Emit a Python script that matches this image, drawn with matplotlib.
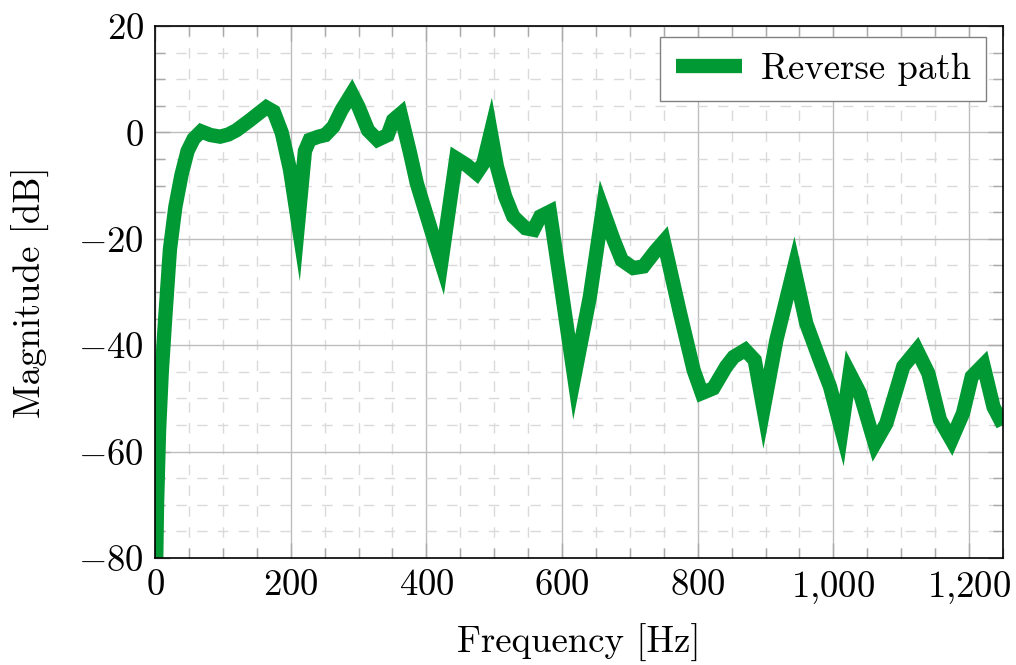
import matplotlib
matplotlib.use("Agg")
import matplotlib.pyplot as plt
from matplotlib.ticker import MultipleLocator, FuncFormatter

# ---- data ----
freq_hz = [0, 3, 6, 10, 15, 22, 30, 39, 48, 57, 68, 82, 96, 108, 120, 140, 164, 175,
           187, 199, 211, 221, 228, 241, 251, 263, 275, 290, 300, 314, 328, 343, 351,
           362, 376, 386, 410, 422, 444, 459, 474, 484, 495, 504, 516, 528, 546, 558,
           568, 582, 597, 618, 641, 660, 676, 688, 705, 720, 737, 750, 774, 794, 806,
           823, 842, 853, 870, 884, 897, 916, 942, 960, 980, 995, 1012, 1024, 1039,
           1061, 1078, 1103, 1123, 1140, 1157, 1174, 1191, 1204, 1221, 1236, 1250]
mag_db = [-95, -70, -56, -45, -35, -22, -14, -8, -3.5, -1.2, 0.2, -0.5, -0.8, -0.4,
          0.4, 2.3, 4.7, 3.9, -0.1, -7, -17, -3.5, -1.4, -0.8, -0.5, 1.1, 4.2, 7.3,
          4.8, 0.4, -1.4, -0.5, 2.3, 3.5, -3.9, -9.6, -19.6, -24.5, -4.9, -6.1, -7.7,
          -5.8, 0.0, -6.4, -12, -15.8, -18, -18.3, -15.8, -14.9, -27.7, -46, -30.9,
          -14.5, -20.2, -24, -25.5, -25.2, -22.4, -20.5, -34, -44.7, -49, -48.1, -44,
          -42.2, -40.9, -42.8, -52, -39, -25.5, -35.9, -42.8, -47.8, -56, -45.3,
          -49, -58.5, -54.7, -44, -40.9, -45.3, -54, -57.8, -52.8, -45.9, -43.7,
          -51.6, -55]
series_label = "Reverse path"
x_label = "Frequency [Hz]"
y_label = "Magnitude [dB]"

plt.rcParams['mathtext.fontset'] = 'cm'
plt.rcParams['font.family'] = ['cmr10', 'DejaVu Serif']
plt.rcParams['axes.formatter.use_mathtext'] = True
plt.rcParams['axes.unicode_minus'] = True

FS = 26.5
GREEN = '#009933'

fig = plt.figure(figsize=(10.16, 6.65), dpi=100)
ax = fig.add_axes([155/1016, 1 - 558/665, (1003-155)/1016, (558-26)/665])

ax.plot(freq_hz, mag_db, color=GREEN, lw=10.3, solid_joinstyle='miter',
        solid_capstyle='butt', label=series_label, zorder=3)

ax.set_xlim(0, 1250)
ax.set_ylim(-80, 20)
ax.xaxis.set_major_locator(MultipleLocator(200))
ax.xaxis.set_minor_locator(MultipleLocator(50))
ax.yaxis.set_major_locator(MultipleLocator(20))
ax.yaxis.set_minor_locator(MultipleLocator(5))

def fmt(v, pos):
    s = f"{int(round(v)):,}".replace(",", "{,}")
    return f"${s}$"
ax.xaxis.set_major_formatter(FuncFormatter(fmt))
ax.yaxis.set_major_formatter(FuncFormatter(fmt))

ax.grid(True, which='major', color='#bdbdbd', lw=1.0, ls='-', zorder=0)
ax.grid(True, which='minor', color='#dadada', lw=1.0, ls=(0, (7.5, 7.5)), zorder=0)
ax.set_axisbelow(True)

ax.tick_params(which='both', direction='in', top=True, right=True, color='#aaaaaa',
               width=1.0, labelsize=FS)
ax.tick_params(which='major', length=10.5, pad=8)
ax.tick_params(which='minor', length=7)
for sp in ax.spines.values():
    sp.set_linewidth(1.2)
    sp.set_color('black')
    sp.set_zorder(4)

ax.set_xlabel(x_label, fontsize=FS, labelpad=13)
ax.set_ylabel(y_label, fontsize=FS, labelpad=20)

leg = ax.legend(loc='upper right', bbox_to_anchor=((986-155)/848, (558-37)/532),
                borderaxespad=0, fontsize=FS, fancybox=False, framealpha=1,
                edgecolor='#808080', handlelength=1.8, handletextpad=0.5,
                borderpad=0.42)
leg.get_frame().set_linewidth(1.0)

fig.savefig('out.png', dpi=100)
